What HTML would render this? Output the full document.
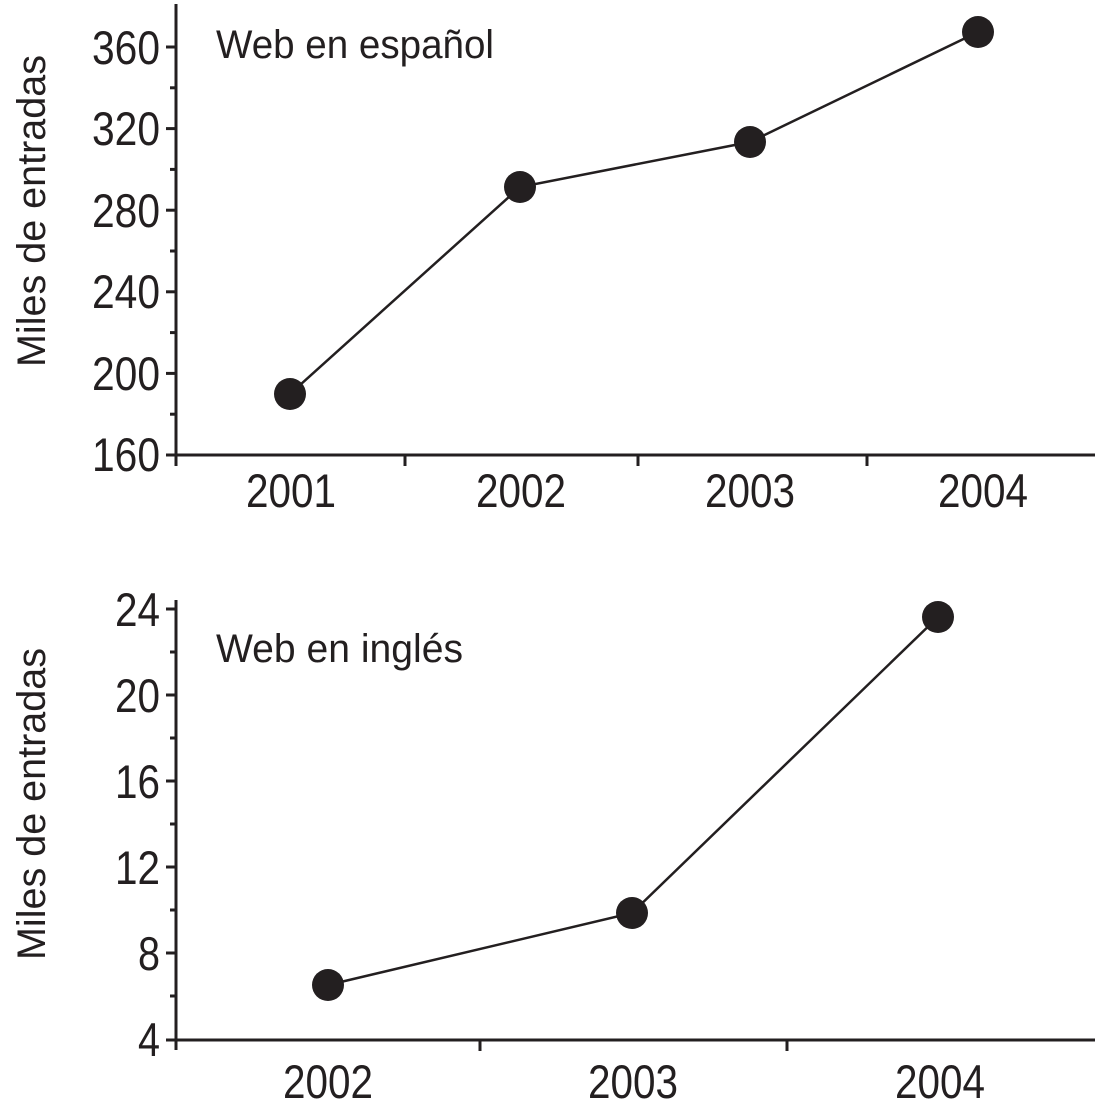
<!DOCTYPE html>
<html><head><meta charset="utf-8"><style>
html,body{margin:0;padding:0;background:#fff;}
svg{display:block;}
text{font-family:"Liberation Sans Narrow","Liberation Sans",sans-serif;fill:#231f20;}
</style></head><body>
<svg width="1102" height="1113" viewBox="0 0 1102 1113" xmlns="http://www.w3.org/2000/svg">
<g stroke="#231f20" stroke-width="3" fill="none">
<line x1="176" y1="4" x2="176" y2="466"/>
<line x1="166" y1="455" x2="1095" y2="455"/>
<line x1="166" y1="47" x2="176" y2="47"/>
<line x1="166" y1="128.6" x2="176" y2="128.6"/>
<line x1="166" y1="210.2" x2="176" y2="210.2"/>
<line x1="166" y1="291.8" x2="176" y2="291.8"/>
<line x1="166" y1="373.4" x2="176" y2="373.4"/>
<line x1="170" y1="87.8" x2="176" y2="87.8"/>
<line x1="170" y1="169.4" x2="176" y2="169.4"/>
<line x1="170" y1="251" x2="176" y2="251"/>
<line x1="170" y1="332.6" x2="176" y2="332.6"/>
<line x1="170" y1="414.2" x2="176" y2="414.2"/>
<line x1="405" y1="455" x2="405" y2="466"/>
<line x1="638" y1="455" x2="638" y2="466"/>
<line x1="867" y1="455" x2="867" y2="466"/>
<line x1="176" y1="600" x2="176" y2="1050"/>
<line x1="166" y1="1040" x2="1095" y2="1040"/>
<line x1="166" y1="609" x2="176" y2="609"/>
<line x1="166" y1="695" x2="176" y2="695"/>
<line x1="166" y1="781" x2="176" y2="781"/>
<line x1="166" y1="867" x2="176" y2="867"/>
<line x1="166" y1="953" x2="176" y2="953"/>
<line x1="170" y1="652" x2="176" y2="652"/>
<line x1="170" y1="738" x2="176" y2="738"/>
<line x1="170" y1="824" x2="176" y2="824"/>
<line x1="170" y1="910" x2="176" y2="910"/>
<line x1="170" y1="996" x2="176" y2="996"/>
<line x1="480" y1="1040" x2="480" y2="1051"/>
<line x1="787" y1="1040" x2="787" y2="1051"/>
<polyline stroke-width="2.5" points="290,394 520,187 750,142 978,32"/>
<polyline stroke-width="2.5" points="328,985 632,913 938,617"/>
</g>
<g fill="#231f20">
<circle cx="290" cy="394" r="16"/><circle cx="520" cy="187" r="16"/><circle cx="750" cy="142" r="16"/><circle cx="978" cy="32" r="16"/>
<circle cx="328" cy="985" r="16"/><circle cx="632" cy="913" r="16"/><circle cx="938" cy="617" r="16"/>
</g>
<g font-size="47" text-anchor="end">
<text x="160" y="64" textLength="68" lengthAdjust="spacingAndGlyphs">360</text>
<text x="160" y="145" textLength="68" lengthAdjust="spacingAndGlyphs">320</text>
<text x="160" y="227" textLength="68" lengthAdjust="spacingAndGlyphs">280</text>
<text x="160" y="308" textLength="68" lengthAdjust="spacingAndGlyphs">240</text>
<text x="160" y="390" textLength="68" lengthAdjust="spacingAndGlyphs">200</text>
<text x="160" y="471" textLength="68" lengthAdjust="spacingAndGlyphs">160</text>
<text x="160" y="626" textLength="45" lengthAdjust="spacingAndGlyphs">24</text>
<text x="160" y="712" textLength="45" lengthAdjust="spacingAndGlyphs">20</text>
<text x="160" y="798" textLength="45" lengthAdjust="spacingAndGlyphs">16</text>
<text x="160" y="884" textLength="45" lengthAdjust="spacingAndGlyphs">12</text>
<text x="160" y="970" textLength="22" lengthAdjust="spacingAndGlyphs">8</text>
<text x="160" y="1056" textLength="22" lengthAdjust="spacingAndGlyphs">4</text>
</g>
<g font-size="47" text-anchor="middle">
<text x="291" y="507" textLength="90" lengthAdjust="spacingAndGlyphs">2001</text>
<text x="521" y="507" textLength="90" lengthAdjust="spacingAndGlyphs">2002</text>
<text x="750" y="507" textLength="90" lengthAdjust="spacingAndGlyphs">2003</text>
<text x="983" y="507" textLength="90" lengthAdjust="spacingAndGlyphs">2004</text>
<text x="328" y="1098" textLength="90" lengthAdjust="spacingAndGlyphs">2002</text>
<text x="633" y="1098" textLength="90" lengthAdjust="spacingAndGlyphs">2003</text>
<text x="940" y="1098" textLength="90" lengthAdjust="spacingAndGlyphs">2004</text>
</g>
<g font-size="40">
<text x="216" y="58" textLength="278" lengthAdjust="spacingAndGlyphs">Web en español</text>
<text x="216" y="662" textLength="247" lengthAdjust="spacingAndGlyphs">Web en inglés</text>
<text transform="translate(45,367) rotate(-90)" textLength="312" lengthAdjust="spacingAndGlyphs">Miles de entradas</text>
<text transform="translate(45,960) rotate(-90)" textLength="312" lengthAdjust="spacingAndGlyphs">Miles de entradas</text>
</g>
</svg>
</body></html>
